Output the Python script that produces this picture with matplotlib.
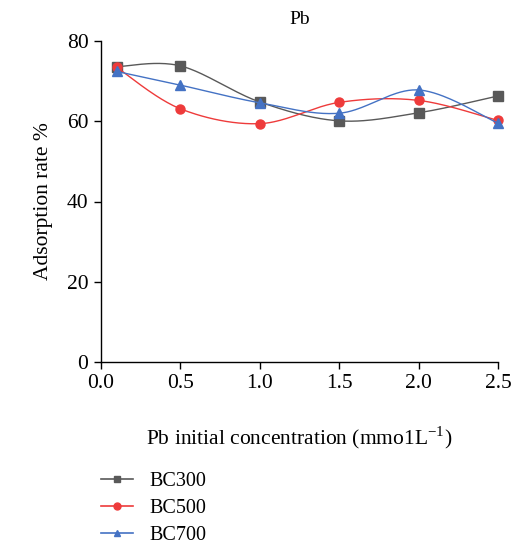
import numpy as np
import matplotlib
matplotlib.use("Agg")
import matplotlib.pyplot as plt
from matplotlib.lines import Line2D

plt.rcParams["font.family"] = "Liberation Serif"
plt.rcParams["mathtext.fontset"] = "custom"
plt.rcParams["mathtext.rm"] = "Liberation Serif"

conc = [0.1, 0.5, 1.0, 1.5, 2.0, 2.5]
bc300 = [73.6, 73.8, 64.8, 60.1, 62.1, 66.3]
bc500 = [73.4, 63.1, 59.4, 64.7, 65.2, 60.2]
bc700 = [72.4, 69.0, 64.6, 62.0, 67.8, 59.5]

series = [
    ("BC300", bc300, "#595959", "s"),
    ("BC500", bc500, "#ee3b3b", "o"),
    ("BC700", bc700, "#4472c4", "^"),
]


def smooth(x, y, n=40):
    # bezier smoothing like spreadsheet "smoothed line"
    p = np.column_stack([x, y]).astype(float)
    out = [p[0]]
    for i in range(len(p) - 1):
        p0 = p[i - 1] if i > 0 else p[i]
        p3 = p[i + 2] if i + 2 < len(p) else p[i + 1]
        c1 = p[i] + (p[i + 1] - p0) / 6
        c2 = p[i + 1] - (p3 - p[i]) / 6
        t = np.linspace(0, 1, n)[1:, None]
        seg = ((1 - t) ** 3) * p[i] + 3 * ((1 - t) ** 2) * t * c1 + 3 * (1 - t) * t ** 2 * c2 + t ** 3 * p[i + 1]
        out.extend(seg)
    out = np.array(out)
    return out[:, 0], out[:, 1]


fig = plt.figure(figsize=(5.16, 5.46), dpi=100)
ax = fig.add_axes([101 / 516, 1 - 362 / 546, 397 / 516, 321 / 546])

handles = []
for label, vals, color, marker in series:
    sx, sy = smooth(conc, vals)
    ax.plot(sx, sy, color=color, linewidth=1.0, clip_on=False)
    ax.plot(conc, vals, linestyle="none", marker=marker, color=color,
            markersize=6.5, clip_on=False)
    handles.append(Line2D([], [], color=color, marker=marker, markersize=5, linewidth=1.2, label=label))

ax.set_xlim(0, 2.5)
ax.set_ylim(0, 80)
ax.set_xticks([0.0, 0.5, 1.0, 1.5, 2.0, 2.5])
ax.set_xticklabels(["0.0", "0.5", "1.0", "1.5", "2.0", "2.5"])
ax.set_yticks([0, 20, 40, 60, 80])
for side in ["top", "right"]:
    ax.spines[side].set_visible(False)
for side in ["left", "bottom"]:
    ax.spines[side].set_linewidth(1.0)
ax.tick_params(direction="out", length=5, width=1.0, labelsize=15.5, pad=4)

ax.set_title("Pb", fontsize=14, pad=12)
ax.set_ylabel("Adsorption rate %", fontsize=15.5, labelpad=10)
ax.set_xlabel("Pb initial concentration (mmo1L$^{-1}$)", fontsize=15.5, labelpad=22)

fig.legend(handles=handles, loc="upper left", bbox_to_anchor=(101 / 516, 1 - 472 / 546),
           frameon=False, fontsize=14.5, labelspacing=0.4, handlelength=1.6, handletextpad=0.8,
           borderaxespad=0, borderpad=0)

fig.savefig("out.png", dpi=100)
